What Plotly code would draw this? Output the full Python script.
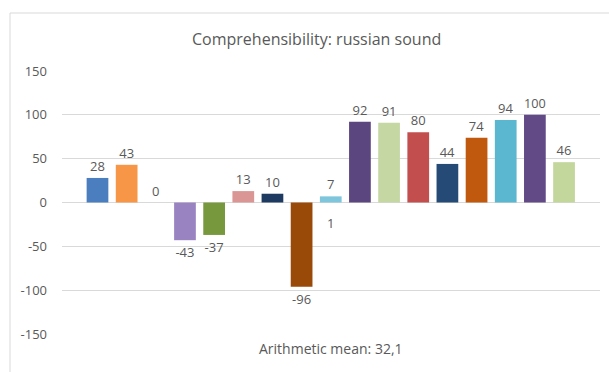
import plotly.graph_objects as go

# Scores per sound (one bar each)
values = [28, 43, 0, -43, -37, 13, 10, -96, 7, 92, 91, 80, 44, 74, 94, 100, 46]
colors = ["#4A7EBF", "#F79646", "#A5A5A5", "#9A83C1", "#77983C", "#D99694",
          "#1F3A60", "#9A4A08", "#7FC6DD", "#5C4680", "#C5D8A3", "#C24F4E",
          "#264A76", "#C0590D", "#5AB7CF", "#624A87", "#C3D69B"]
y_ticks = [-150, -100, -50, 0, 50, 100, 150]
title_text = "Comprehensibility: russian sound"
footer_text = "Arithmetic mean: 32,1"
extra_label = "1"
extra_label_index = 8

W, H = 609, 372
ML, MR, MT, MB = 62, 9, 71, 38
pw, ph = W - ML - MR, H - MT - MB

x = list(range(len(values)))
fig = go.Figure(go.Bar(
    x=x, y=values,
    marker=dict(color=colors, line=dict(width=0)),
    width=0.745,
    text=[str(v) for v in values],
    textposition="outside",
    cliponaxis=False,
    textfont=dict(family="Open Sans", size=13, color="#595959"),
))


def px_x(p):
    return (p - ML) / pw


def px_y(p):
    return 1 - (p - MT) / ph


fig.update_layout(
    width=W, height=H,
    margin=dict(l=ML, r=MR, t=MT, b=MB),
    paper_bgcolor="white", plot_bgcolor="white",
    showlegend=False,
    xaxis=dict(range=[-1.217, len(values) - 1 + 1.233], showticklabels=False,
               showgrid=False, zeroline=False, fixedrange=True),
    yaxis=dict(range=[-150, 150], tickvals=y_ticks,
               ticktext=[str(v) for v in y_ticks],
               showgrid=True, gridcolor="#D9D9D9", gridwidth=1,
               zeroline=True, zerolinecolor="#D9D9D9", zerolinewidth=1,
               ticks="", ticklabelstandoff=14,
               tickfont=dict(family="Open Sans", size=13, color="#595959")),
    font=dict(family="Open Sans"),
    annotations=[
        dict(text=title_text, xref="paper", yref="paper",
             x=px_x(316), y=px_y(39), showarrow=False,
             xanchor="center", yanchor="middle",
             font=dict(family="Open Sans", size=16, color="#595959")),
        dict(text=footer_text, xref="paper", yref="paper",
             x=px_x(331), y=px_y(348), showarrow=False,
             xanchor="center", yanchor="middle",
             font=dict(family="Open Sans", size=14, color="#595959")),
        dict(text=extra_label, x=extra_label_index, y=-23, xref="x", yref="y",
             showarrow=False, xanchor="center", yanchor="middle",
             font=dict(family="Open Sans", size=13, color="#595959")),
    ],
    shapes=[
        dict(type="line", xref="paper", yref="paper",
             x0=px_x(10), x1=px_x(W + 5), y0=px_y(13), y1=px_y(13),
             line=dict(color="#D9D9D9", width=1)),
        dict(type="line", xref="paper", yref="paper",
             x0=px_x(10), x1=px_x(10), y0=px_y(13), y1=px_y(H + 5),
             line=dict(color="#D9D9D9", width=1)),
    ],
)

fig.write_html("out.html")
